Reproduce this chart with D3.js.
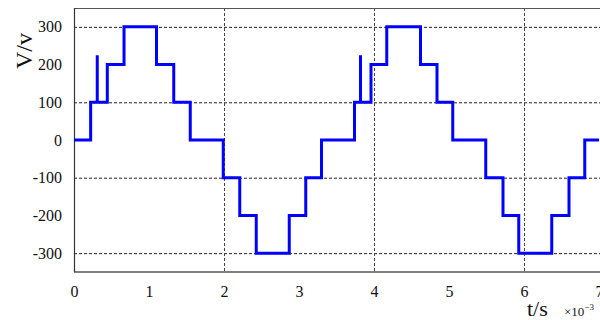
<!DOCTYPE html>
<html><head><meta charset="utf-8">
<script src="https://cdn.jsdelivr.net/npm/d3@7"></script>
<style>body{margin:0;background:#fff}svg{display:block}svg text{font-family:"Liberation Serif","Times New Roman",serif !important}</style>
</head><body>
<svg id="c" width="600" height="320"></svg>
<script>
const times = [0, 0.222, 0.31, 0.31, 0.444, 0.667, 1.10, 1.33, 1.55, 1.99, 2.21, 2.43, 2.87, 3.09, 3.30, 3.74, 3.82, 3.82, 3.96, 4.17, 4.62, 4.84, 5.05, 5.49, 5.72, 5.93, 6.37, 6.60, 6.81, 7.0];
const volts = [0, 100, 225, 100, 200, 300, 200, 100, 0, -100, -200, -300, -200, -100, 0, 100, 225, 100, 200, 300, 200, 100, 0, -100, -200, -300, -200, -100, 0, 0];
const xTicks = [0, 1, 2, 3, 4, 5, 6, 7];
const yTicks = [300, 200, 100, 0, -100, -200, -300];
const xGrid = [2, 4, 6];
const yGrid = [300, 100, -100, -300];

const svg = d3.select("#c");
const x = d3.scaleLinear().domain([0, 7]).range([74, 599]);
const y = d3.scaleLinear().domain([-350, 350]).range([272, 8]);

// grid
svg.append("g").selectAll("line").data(yGrid).join("line")
  .attr("x1", 74).attr("x2", 600).attr("y1", d => y(d) + 0.5).attr("y2", d => y(d) + 0.5)
  .attr("stroke", "#222").attr("stroke-width", 1).attr("stroke-dasharray", "3,2");
svg.append("g").selectAll("line").data(xGrid).join("line")
  .attr("x1", d => x(d) + 0.5).attr("x2", d => x(d) + 0.5).attr("y1", 8).attr("y2", 272)
  .attr("stroke", "#444").attr("stroke-width", 1).attr("stroke-dasharray", "3,2");

// frame
svg.append("line").attr("x1", 74).attr("x2", 600).attr("y1", 8.5).attr("y2", 8.5).attr("stroke", "#555").attr("stroke-width", 1.2);
svg.append("line").attr("x1", 74).attr("x2", 600).attr("y1", 272).attr("y2", 272).attr("stroke", "#808080").attr("stroke-width", 2);

// axes
const fmt = d => String(d);
const xAxis = d3.axisBottom(x).tickValues(xTicks).tickSize(0).tickPadding(14).tickFormat(fmt);
const gx = svg.append("g").attr("transform", "translate(0,272)").call(xAxis)
  .attr("font-family", "Liberation Serif").attr("font-size", 16);
gx.select(".domain").remove();
gx.selectAll("text").attr("fill", "#111");

const yAxis = d3.axisLeft(y).tickValues(yTicks).tickSize(0).tickPadding(12).tickFormat(fmt);
const gy = svg.append("g").attr("transform", "translate(74,0)").call(yAxis)
  .attr("font-family", "Liberation Serif").attr("font-size", 16);
gy.select(".domain").remove();
gy.selectAll("text").attr("fill", "#111");
svg.append("line").attr("x1", 74.5).attr("x2", 74.5).attr("y1", 8).attr("y2", 272).attr("stroke", "#333").attr("stroke-width", 1.2);

// waveform
const pts = times.map((t, i) => [t, volts[i]]);
svg.append("path").datum(pts)
  .attr("d", d3.line().x(d => x(d[0])).y(d => y(d[1])).curve(d3.curveStepAfter))
  .attr("fill", "none").attr("stroke", "#0000ff").attr("stroke-width", 3).attr("stroke-linejoin", "miter");

// labels
svg.append("text").attr("transform", "translate(32,51) rotate(-90)").attr("text-anchor", "middle")
  .attr("font-size", 24).attr("fill", "#111").text("V/v");
svg.append("text").attr("x", 527).attr("y", 316).attr("font-size", 22).attr("fill", "#111").text("t/s");
const sc = svg.append("text").attr("x", 564).attr("y", 316).attr("font-size", 13).attr("fill", "#111");
sc.append("tspan").text("×10");
sc.append("tspan").attr("dy", -6).attr("font-size", 9).text("−3");
</script>
</body></html>
